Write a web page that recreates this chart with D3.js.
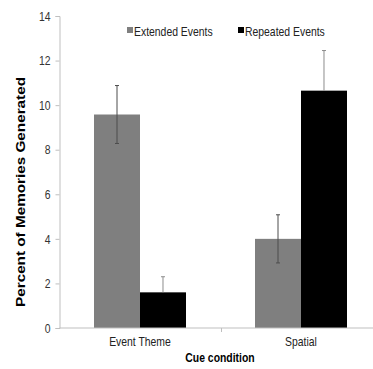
<!DOCTYPE html>
<html>
<head>
<meta charset="utf-8">
<script src="https://cdn.jsdelivr.net/npm/d3@7"></script>
<style>
  html, body { margin: 0; padding: 0; background: #fff; }
  svg { display: block; }
  text { font-family: "Liberation Sans", Arial, sans-serif; }
</style>
</head>
<body>
<script>
// Cue conditions on the x axis and the two memory-type series
const categories = ["Event Theme", "Spatial"];
const seriesNames = ["Extended Events", "Repeated Events"];
const extendedValues = [9.58, 4.0];
const extendedErrors = [1.3, 1.08];
const repeatedValues = [1.6, 10.65];
const repeatedErrors = [0.7, 1.8];
const yTicks = [0, 2, 4, 6, 8, 10, 12, 14];
const seriesColors = ["#7f7f7f", "#000000"];

const width = 373, height = 369;
const svg = d3.select("body").append("svg")
  .attr("width", width).attr("height", height);

const plotLeft = 59.5, plotRight = 381.5, plotTop = 16, plotBottom = 328;
// condensed look for the regular labels
const narrow = 0.8;
function condense(sel) {
  sel.each(function () {
    const w = this.getComputedTextLength();
    d3.select(this).attr("textLength", w * narrow).attr("lengthAdjust", "spacingAndGlyphs");
  });
}

const y = d3.scaleLinear().domain([0, 14]).range([plotBottom, plotTop]);
const x0 = d3.scaleBand().domain(categories).range([plotLeft, plotRight])
  .paddingInner(0.4286).paddingOuter(0.2143);
const x1 = d3.scaleBand().domain(seriesNames).range([0, x0.bandwidth()]);

const rows = categories.map((c, i) => ({
  cat: c,
  items: [
    { s: seriesNames[0], v: extendedValues[i], e: extendedErrors[i], color: seriesColors[0] },
    { s: seriesNames[1], v: repeatedValues[i], e: repeatedErrors[i], color: seriesColors[1] }
  ]
}));

// y axis
const yAxis = svg.append("g")
  .attr("transform", `translate(${plotLeft},0)`)
  .call(d3.axisLeft(y).tickValues(yTicks).tickSize(4).tickPadding(5));
yAxis.select(".domain").attr("stroke", "#bfbfbf");
yAxis.selectAll(".tick line").attr("stroke", "#bfbfbf");
yAxis.selectAll(".tick text").attr("font-size", 13).attr("fill", "#333").call(condense);

// bars
const groups = svg.append("g").selectAll("g").data(rows).join("g")
  .attr("transform", d => `translate(${x0(d.cat)},0)`);

groups.selectAll("rect").data(d => d.items).join("rect")
  .attr("x", d => x1(d.s))
  .attr("width", x1.bandwidth())
  .attr("y", d => y(d.v))
  .attr("height", d => y(0) - y(d.v))
  .attr("fill", d => d.color);

// error bars (on black bars only the part above the bar shows)
const isBlack = d => d.color === "#000000";
const eb = groups.selectAll("g.err").data(d => d.items).join("g").attr("class", "err")
  .attr("transform", d => `translate(${x1(d.s) + x1.bandwidth() / 2},0)`);
eb.append("line")
  .attr("y1", d => y(d.v + d.e)).attr("y2", d => isBlack(d) ? y(d.v) : y(d.v - d.e))
  .attr("stroke", d => isBlack(d) ? "#8c8c8c" : "#4d4d4d").attr("stroke-width", 1);
eb.append("line")
  .attr("x1", -2).attr("x2", 2)
  .attr("y1", d => y(d.v + d.e)).attr("y2", d => y(d.v + d.e))
  .attr("stroke", d => isBlack(d) ? "#8c8c8c" : "#4d4d4d");
eb.filter(d => !isBlack(d)).append("line")
  .attr("x1", -2).attr("x2", 2)
  .attr("y1", d => y(d.v - d.e)).attr("y2", d => y(d.v - d.e))
  .attr("stroke", "#4d4d4d");

// x axis
const xAxis = svg.append("g")
  .attr("transform", `translate(0,${plotBottom})`);
xAxis.append("line").attr("x1", plotLeft).attr("x2", width)
  .attr("stroke", "#bfbfbf");
const mid = (x0(categories[0]) + x0.bandwidth() + x0(categories[1])) / 2;
xAxis.append("line").attr("x1", Math.round(mid) + 0.5).attr("x2", Math.round(mid) + 0.5)
  .attr("y1", 0).attr("y2", 4).attr("stroke", "#bfbfbf");
xAxis.selectAll("text.cat").data(categories).join("text").attr("class", "cat")
  .attr("x", d => x0(d) + x0.bandwidth() / 2)
  .attr("y", 18)
  .attr("text-anchor", "middle")
  .attr("font-size", 13).attr("fill", "#222")
  .text(d => d)
  .call(condense);

// axis titles
svg.append("text")
  .attr("x", 220).attr("y", 362)
  .attr("text-anchor", "middle")
  .attr("font-size", 13).attr("font-weight", "bold")
  .text("Cue condition")
  .call(condense);
svg.append("text")
  .attr("transform", `translate(25,${192}) rotate(-90)`)
  .attr("text-anchor", "middle")
  .attr("font-size", 13.5).attr("font-weight", "bold")
  .attr("textLength", 230).attr("lengthAdjust", "spacingAndGlyphs")
  .text("Percent of Memories Generated");

// legend
const legendX = [127, 238];
const legend = svg.append("g").selectAll("g").data(seriesNames).join("g")
  .attr("transform", (d, i) => `translate(${legendX[i]},31)`);
legend.append("rect").attr("x", 0).attr("y", -4).attr("width", 6).attr("height", 6)
  .attr("fill", (d, i) => seriesColors[i]);
legend.append("text").attr("x", 7).attr("y", 4.5)
  .attr("font-size", 13).attr("fill", "#222")
  .text(d => d)
  .call(condense);
</script>
</body>
</html>
